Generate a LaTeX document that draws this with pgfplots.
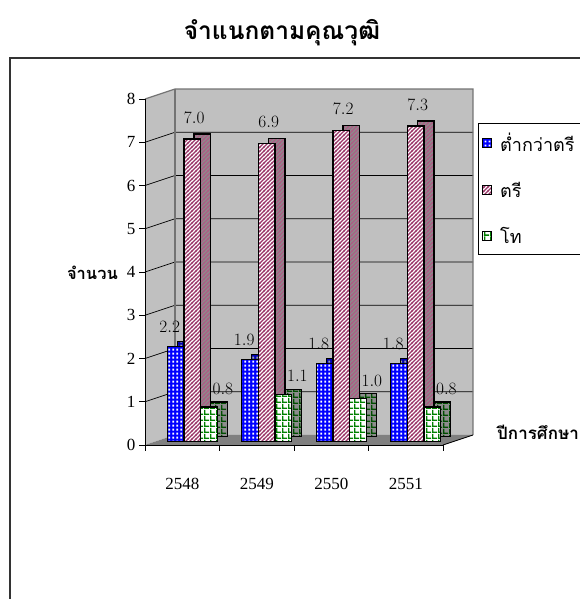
\documentclass[border=0pt]{standalone}
\usepackage{fontspec}
\setmainfont{Liberation Serif}
\newfontfamily\thai[Script=Thai]{Loma}
\usepackage{pgfplots}
\pgfplotsset{compat=1.18}
\usetikzlibrary{patterns}

\definecolor{xlblue}{RGB}{0,0,255}
\definecolor{xlpink}{RGB}{153,51,102}
\definecolor{xlgreen}{RGB}{0,128,0}
\definecolor{wallgray}{RGB}{192,192,192}
\definecolor{floorgray}{RGB}{128,128,128}
\definecolor{sidegray}{RGB}{140,140,140}

\pgfdeclarepatternformonly{mydots}{\pgfpointorigin}{\pgfqpoint{4pt}{4pt}}{\pgfqpoint{4pt}{4pt}}{%
  \pgfpathrectangle{\pgfqpoint{0.6pt}{0.6pt}}{\pgfqpoint{2.2pt}{2.2pt}}%
  \pgfusepath{fill}}
\pgfdeclarepatternformonly{mydiag}{\pgfqpoint{-1pt}{-1pt}}{\pgfqpoint{5pt}{5pt}}{\pgfqpoint{4pt}{4pt}}{%
  \pgfsetlinewidth{1.3pt}%
  \pgfpathmoveto{\pgfqpoint{-0.5pt}{-0.5pt}}\pgfpathlineto{\pgfqpoint{4.5pt}{4.5pt}}%
  \pgfusepath{stroke}}
\pgfdeclarepatternformonly{mygrid}{\pgfpointorigin}{\pgfqpoint{5.5pt}{5.5pt}}{\pgfqpoint{5.5pt}{5.5pt}}{%
  \pgfpathrectangle{\pgfpointorigin}{\pgfqpoint{5.5pt}{1.5pt}}%
  \pgfpathrectangle{\pgfpointorigin}{\pgfqpoint{1.5pt}{5.5pt}}%
  \pgfusepath{fill}}

\tikzset{
  blueF/.style={draw=black, line width=1.2pt, pattern=mydots, pattern color=white, preaction={fill=xlblue}},
  pinkF/.style={draw=black, line width=1.2pt, pattern=mydiag, pattern color=xlpink, preaction={fill=white}},
  greenF/.style={draw=black, line width=1.2pt, pattern=mygrid, pattern color=xlgreen, preaction={fill=white}},
  blueS/.style={draw=black, line width=1.2pt, pattern=mydots, pattern color=black!35, preaction={fill=xlblue!70!black}},
  pinkS/.style={draw=black, line width=1.2pt, pattern=mydiag, pattern color=xlpink!80!white, preaction={fill=sidegray}},
  greenS/.style={draw=black, line width=1.2pt, pattern=mygrid, pattern color=xlgreen!60!black, preaction={fill=sidegray}},
}

\begin{document}
\begin{tikzpicture}
\useasboundingbox (0pt,0pt) rectangle (579pt,599pt);
\begin{scope}[x=1pt,y=1pt]
  % chart frame
  \draw[line width=1.4pt, color=black!80] (10,-10) -- (10,541) -- (600,541);
  % walls and floor
  \fill[wallgray] (145,154) -- (145,500) -- (175,510) -- (175,164) -- cycle;
  \fill[wallgray] (175,164) rectangle (473,510);
  \fill[floorgray] (145,154) -- (443,154) -- (473,164) -- (175,164) -- cycle;
  \foreach \v in {1,...,7} {
    \draw[black, line width=0.7pt] (145,154+43.25*\v) -- (175,164+43.25*\v) -- (473,164+43.25*\v);
  }
  \draw[black!55, line width=1.2pt] (145,500) -- (175,510) -- (473,510) -- (473,164);
  \draw[black!55, line width=1.2pt] (175,510) -- (175,164);
  \draw[black, line width=0.8pt] (443,154) -- (473,164);
  % x tick marks
  \foreach \t in {0,1,2,3,4} { \draw[black, line width=0.8pt] (145+74.5*\t,154) -- (145+74.5*\t,148); }
  % texts
  \node[font=\thai\bfseries\fontsize{24.5}{28}\selectfont] at (282,566) {จำแนกตามคุณวุฒิ};
  \node[font=\thai\bfseries\fontsize{16.5}{19}\selectfont, anchor=east, inner sep=0pt] at (118,326) {จำนวน};
  \node[font=\thai\bfseries\fontsize{17}{20}\selectfont, anchor=west, inner sep=0pt] at (497,167) {ปีการศึกษา};
\end{scope}

% front frame axis (ticks and labels)
\begin{axis}[
  at={(145pt,154pt)}, anchor=south west, scale only axis,
  width=298pt, height=346pt,
  xmin=0, xmax=4, ymin=0, ymax=8,
  axis x line*=bottom, axis y line*=left,
  axis line style={black, line width=0.8pt},
  ytick={0,1,...,8},
  xtick={0.5,1.5,2.5,3.5},
  xticklabels={2548,2549,2550,2551},
  xtick style={draw=none},
  ytick style={black, line width=0.8pt},
  tick align=outside, major tick length=6pt,
  /pgf/number format/assume math mode=true,
  ticklabel style={font=\fontsize{17}{20}\selectfont},
  xticklabel style={yshift=-24pt},
]
\end{axis}

% bars
\begin{axis}[
  at={(155pt,157.3pt)}, anchor=south west, scale only axis,
  width=298pt, height=346pt,
  xmin=0, xmax=4, ymin=0, ymax=8,
  axis lines=none, clip=false,
  ybar, bar width=16.6pt,
  legend cell align=left,
  legend style={at={(1.0839,0.9211)}, anchor=north west, draw=black, line width=0.6pt,
    font=\thai\fontsize{18}{21}\selectfont, row sep=24.5pt, column sep=6pt,
    inner xsep=4pt, inner ysep=8pt},
  myleg/.style={legend image code/.code={\draw[##1, line width=0.9pt] (0pt,-4.5pt) rectangle (9pt,4.5pt);}},
  mynodes/.style={nodes near coords={\pgfmathprintnumber[fixed,fixed zerofill,precision=1]{\pgfplotspointmeta}},
    every node near coord/.append style={font=\fontsize{17}{19}\selectfont, inner sep=0pt, anchor=center, black}},
]
% side/top faces (drawn first)
\addplot[blueS, bar shift=-16.6pt, xshift=10pt, yshift=5pt, forget plot] coordinates {(0.5,2.2) (1.5,1.9) (2.5,1.8) (3.5,1.8)};
\addplot[pinkS, bar shift=0pt, xshift=10pt, yshift=5pt, forget plot] coordinates {(0.5,7.0) (1.5,6.9) (2.5,7.2) (3.5,7.3)};
\addplot[greenS, bar shift=16.6pt, xshift=10pt, yshift=5pt, forget plot] coordinates {(0.5,0.8) (1.5,1.1) (2.5,1.0) (3.5,0.8)};
% front faces
\addplot[blueF, myleg, mynodes, bar shift=-16.6pt, every node near coord/.append style={xshift=-6pt, yshift=20pt}] coordinates {(0.5,2.2) (1.5,1.9) (2.5,1.8) (3.5,1.8)};
\addlegendentry{ต่ำกว่าตรี}
\addplot[pinkF, myleg, mynodes, bar shift=0pt, every node near coord/.append style={xshift=2pt, yshift=21pt}] coordinates {(0.5,7.0) (1.5,6.9) (2.5,7.2) (3.5,7.3)};
\addlegendentry{ตรี}
\addplot[greenF, myleg, mynodes, bar shift=16.6pt, every node near coord/.append style={xshift=14pt, yshift=18pt}] coordinates {(0.5,0.8) (1.5,1.1) (2.5,1.0) (3.5,0.8)};
\addlegendentry{โท}
\end{axis}
\end{tikzpicture}
\end{document}
